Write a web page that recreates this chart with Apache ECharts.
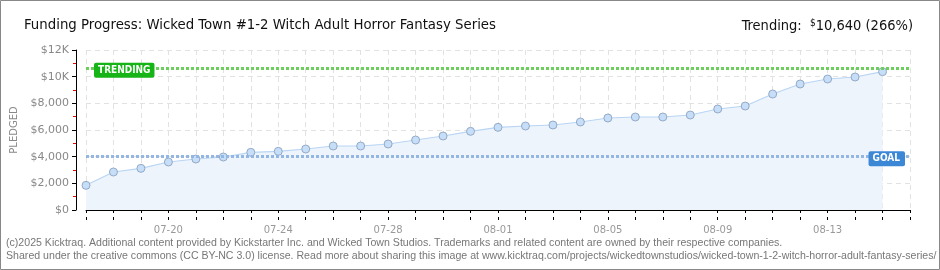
<!DOCTYPE html>
<html><head><meta charset="utf-8">
<script src="https://cdn.jsdelivr.net/npm/echarts@6/dist/echarts.min.js"></script>
<style>html,body{margin:0;padding:0;background:#fff}#c{width:940px;height:270px}</style>
</head><body><div id="c"></div>
<script>
const dates = ['07-17','07-18','07-19','07-20','07-21','07-22','07-23','07-24','07-25','07-26','07-27','07-28','07-29','07-30','07-31',
  '08-01','08-02','08-03','08-04','08-05','08-06','08-07','08-08','08-09','08-10','08-11','08-12','08-13','08-14','08-15','08-16'];
const pledged = [1850,2850,3125,3600,3825,3975,4325,4400,4575,4800,4800,4950,5250,5550,5900,
  6200,6300,6375,6600,6900,6975,6975,7125,7575,7800,8700,9450,9825,9975,10375,null];
const goal = 4000;
const trending = 10640;
const trendingPct = 266;
const titleText = 'Funding Progress: Wicked Town #1-2 Witch Adult Horror Fantasy Series';
const footer1 = '(c)2025 Kicktraq. Additional content provided by Kickstarter Inc. and Wicked Town Studios. Trademarks and related content are owned by their respective companies.';
const footer2 = 'Shared under the creative commons (CC BY-NC 3.0) license. Read more about sharing this image at www.kicktraq.com/projects/wickedtownstudios/wicked-town-1-2-witch-horror-adult-fantasy-series/';

const chart = echarts.init(document.getElementById('c'), null, {renderer:'canvas'});
const titleFont = '"Liberation Sans Narrow", "DejaVu Sans Condensed", sans-serif';
const axFont = '"DejaVu Sans", sans-serif';
const lblFont = '"DejaVu Sans Condensed", "DejaVu Sans", sans-serif';
chart.setOption({
  animation:false,
  title:[
    {text:titleText,left:19,top:13,textStyle:{fontFamily:titleFont,fontSize:14.8,fontWeight:'normal',color:'#111'}},
    {text:'{a|Trending:  }{s|$}{a|' + trending.toLocaleString('en-US') + ' (' + trendingPct + '%)}',right:22,top:13,
     textStyle:{fontWeight:'normal',rich:{a:{fontFamily:titleFont,fontSize:14.5,fontWeight:'normal',color:'#111'},s:{fontFamily:titleFont,fontSize:10,fontWeight:'normal',color:'#111',verticalAlign:'top',padding:[0,0,7,0]}}}}
  ],
  graphic:[
    {type:'rect',shape:{x:0.5,y:0.5,width:939,height:269},style:{fill:null,stroke:'#888',lineWidth:1},silent:true,z:100},
    {type:'text',left:6,top:238,style:{text:footer1,fontFamily:'"Liberation Sans", sans-serif',fontSize:10.6,fill:'#777'}},
    {type:'text',left:6,top:251,style:{text:footer2,fontFamily:'"Liberation Sans", sans-serif',fontSize:10.6,fill:'#777'}}
  ],
  grid:{left:86,right:30,top:50,bottom:60,containLabel:false},
  xAxis:[{
    type:'category',data:dates,boundaryGap:false,offset:10,
    axisLine:{lineStyle:{color:'#000',width:1}},
    axisTick:{show:true,interval:0,length:3,lineStyle:{color:'#000'}},
    axisLabel:{interval:(i)=> (i-3)%4===0,fontFamily:axFont,fontSize:10,color:'#999',margin:5},
    splitLine:{show:true,interval:0,lineStyle:{color:'#e2e2e2',type:[5,4]}}
  },{
    type:'category',data:dates,boundaryGap:false,position:'bottom',offset:10,
    axisLine:{show:false},axisTick:{show:true,inside:true,interval:0,length:3,lineStyle:{color:'#000'}},
    axisLabel:{show:false},splitLine:{show:false}
  }],
  yAxis:{
    type:'value',min:0,max:12000,interval:2000,offset:10,
    name:'PLEDGED',nameLocation:'middle',nameGap:52,nameRotate:90,
    nameTextStyle:{fontFamily:axFont,fontSize:10,color:'#888'},
    axisLine:{show:true,lineStyle:{color:'#000'}},
    axisTick:{show:true,length:4,lineStyle:{color:'#000'}},
    minorTick:{show:true,splitNumber:2,length:3,lineStyle:{color:'#e00'}},
    axisLabel:{fontFamily:axFont,fontSize:11,color:'#888',margin:7,
      formatter:v=> v>=10000 ? '$'+(v/1000)+'K' : '$'+v.toLocaleString('en-US')},
    splitLine:{show:true,lineStyle:{color:'#e2e2e2',type:[5,4]}}
  },
  series:[{
    type:'line',data:pledged,symbol:'circle',symbolSize:8,
    itemStyle:{color:'#c6def8',borderColor:'#93a9c6',borderWidth:1},
    lineStyle:{color:'#b8d5f4',width:1.2},
    areaStyle:{color:'#eef4fc',opacity:1},
    z:3,
    markLine:{
      silent:true,symbol:['none','none'],
      data:[
        {yAxis:trending,lineStyle:{color:'#6ccf5c',width:3,type:[3,2]},
         label:{show:true,position:'insideStart',formatter:'TRENDING',offset:[3,2],
           backgroundColor:'#17b417',color:'#fff',fontFamily:lblFont,fontSize:10,fontWeight:'bold',padding:[3,4,2,4],borderRadius:2}},
        {yAxis:goal,lineStyle:{color:'#93b6e2',width:3,type:[3,2]},
         label:{show:true,position:'insideEnd',formatter:'GOAL',offset:[0,2],
           backgroundColor:'#3d88d6',color:'#fff',fontFamily:lblFont,fontSize:10,fontWeight:'bold',padding:[3,5,2,4],borderRadius:2}}
      ]
    }
  }]
});
</script></body></html>
